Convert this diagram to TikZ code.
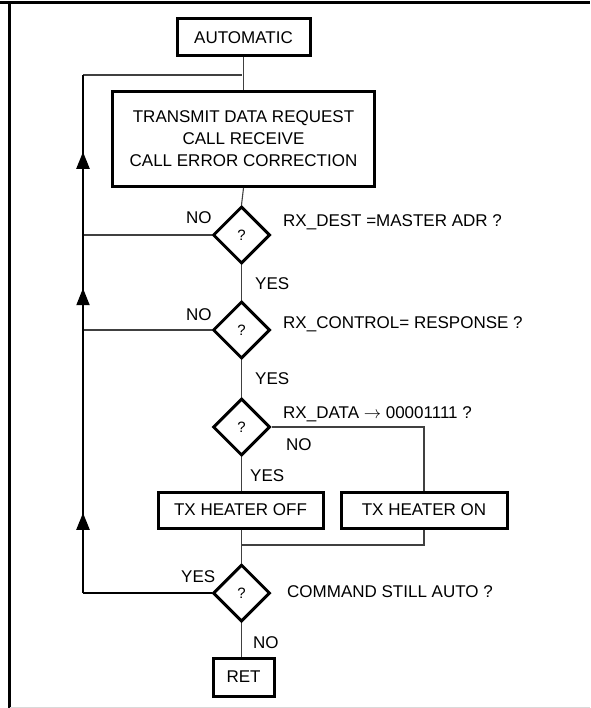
\documentclass[tikz,border=0pt]{standalone}
\usepackage{fontspec}
\setmainfont{Liberation Sans}
\usetikzlibrary{shapes.geometric,arrows.meta,decorations.markings}
\begin{document}
\begin{tikzpicture}[x=1pt,y=-1pt,
  every node/.style={font=\fontsize{17}{20.5}\selectfont},
  procbox/.style={draw,line width=3pt,inner sep=0pt,align=center},
  decision/.style={draw,diamond,line width=3pt,minimum width=57pt,minimum height=57pt,inner sep=0pt,font=\fontsize{15}{17}\selectfont},
  flow/.style={line width=1.1pt,draw=black!75},
  loopline/.style={line width=2pt},
  lbl/.style={inner sep=0pt,anchor=base west},
  upmark/.style={postaction={decorate},decoration={markings,mark=at position #1 with {\arrow{Triangle[length=17pt,width=13pt]}}}}
]
\useasboundingbox (0,0) rectangle (590,708);
% frame
\draw[line width=2.6pt] (0,2.5) -- (590,2.5);
\draw[line width=2.6pt] (9.5,2.5) -- (9.5,708);
\draw[line width=1pt,draw=black!15] (9.5,707) -- (590,707);

% nodes
\node[procbox,minimum width=133pt,minimum height=37pt] (auto) at (243.5,37.5) {AUTOMATIC};
\node[procbox,minimum width=262pt,minimum height=95pt,font=\fontsize{17}{22}\selectfont] (main) at (243.5,139) {TRANSMIT DATA REQUEST\\CALL RECEIVE\\CALL ERROR CORRECTION};
\node[decision] (d1) at (241.5,235) {?};
\node[decision] (d2) at (241.5,330) {?};
\node[decision] (d3) at (241.5,427) {?};
\node[procbox,minimum width=165pt,minimum height=36pt] (off) at (240.5,510) {TX HEATER OFF};
\node[procbox,minimum width=166pt,minimum height=36pt] (on) at (424,510) {TX HEATER ON};
\node[decision] (d4) at (241.5,593) {?};
\node[procbox,minimum width=61pt,minimum height=38pt] (ret) at (243.5,677) {RET};

\coordinate (join) at (241.5,75);
\coordinate (tl) at (83,75);
\coordinate (l1) at (83,235);
\coordinate (l2) at (83,330);
\coordinate (bl) at (83,593);
\coordinate (nr) at (424,427);
\coordinate (mj) at (424,545);
\coordinate (mm) at (241.5,545);

% connectors
\draw[flow] (auto.south) -- (main.north |- auto.south) -- (main.north);
\draw[flow] (main.south) -- (d1.north);
\draw[flow] (d1.south) -- (d2.north);
\draw[flow] (d2.south) -- (d3.north);
\draw[flow] (d3.south) -- (d3.south |- off.north);
\draw[flow] (d3.east) -- (nr) -- (on.north -| nr);
\draw[flow] (off.south -| mm) -- (d4.north);
\draw[flow] (on.south -| mj) -- (mj) -- (mm);
\draw[flow] (d4.south) -- (ret.north -| d4.south);
\draw[flow] (d1.west) -- (l1);
\draw[flow] (d2.west) -- (l2);
\draw[flow] (tl) -- (join);
\draw[line width=1.3pt] (d4.west) -- (bl);
\draw[loopline,upmark=0.305] (bl) -- (l2);
\draw[loopline,upmark=0.44] (l2) -- (l1);
\draw[loopline,upmark=0.52] (l1) -- (tl);

% labels
\node[lbl] at (186,224) {NO};
\node[lbl] at (283,227) {RX\_DEST =MASTER ADR ?};
\node[lbl] at (255,289) {YES};
\node[lbl] at (186,320) {NO};
\node[lbl] at (283,328) {RX\_CONTROL= RESPONSE ?};
\node[lbl] at (255,384) {YES};
\node[lbl] at (283,418) {RX\_DATA $\rightarrow$ 00001111 ?};
\node[lbl] at (286,450) {NO};
\node[lbl] at (250,481) {YES};
\node[lbl] at (181,582) {YES};
\node[lbl] at (287,597) {COMMAND STILL AUTO ?};
\node[lbl] at (253,648) {NO};
\end{tikzpicture}
\end{document}
